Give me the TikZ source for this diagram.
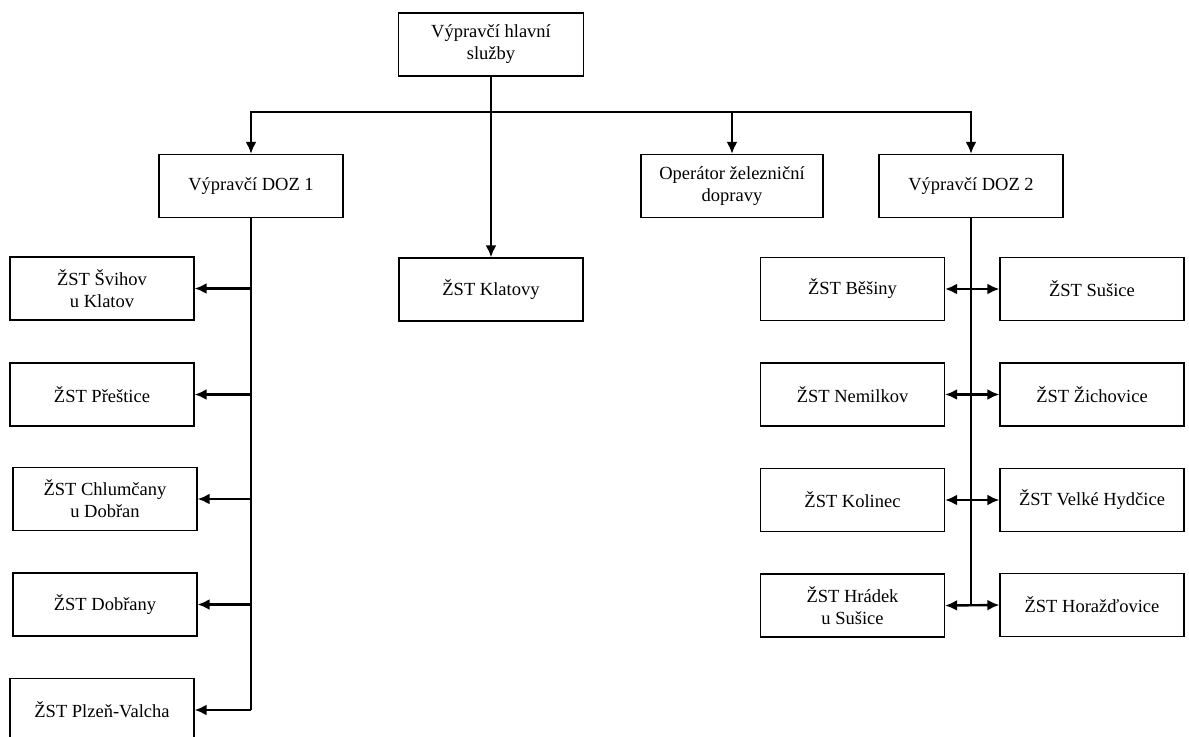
\documentclass[tikz,border=0pt]{standalone}
\usepackage{fontspec}
\setmainfont{Liberation Serif}
\usetikzlibrary{arrows.meta}

\begin{document}
\begin{tikzpicture}[x=0.5pt,y=-0.5pt,
  box/.style={draw,line width=0.6pt,minimum width=92pt,minimum height=31.5pt,inner sep=0pt,align=center,font=\fontsize{9.25}{11}\selectfont},
  link/.style={line width=1.2pt,-{Latex[length=6pt,width=5.5pt]}},
  both/.style={line width=1.2pt,{Latex[length=6pt,width=5.5pt]}-{Latex[length=6pt,width=5.5pt]}}]
\useasboundingbox (0,0) rectangle (1189,736);
\node[box,minimum width=92.5pt] (hlavni) at (491,44.5) {Výpravčí hlavní\\služby};
\node[box] (doz1) at (251,186) {Výpravčí DOZ 1};
\node[box,minimum width=91pt] (oper) at (732,186) {Operátor železniční\\dopravy};
\node[box] (doz2) at (971,186) {Výpravčí DOZ 2};
\node[box] (klatovy) at (491,289.5) {ŽST Klatovy};

\node[box] (svihov) at (102,288.5) {ŽST Švihov\\u Klatov};
\node[box] (prestice) at (102,394.5) {ŽST Přeštice};
\node[box] (chlumcany) at (105,499) {ŽST Chlumčany\\u Dobřan};
\node[box] (dobrany) at (105,604.5) {ŽST Dobřany};
\node[box] (plzen) at (102,710) {ŽST Plzeň-Valcha};

\node[box] (besiny) at (852.5,289) {ŽST Běšiny};
\node[box] (nemilkov) at (852.5,394.5) {ŽST Nemilkov};
\node[box] (kolinec) at (852.5,500) {ŽST Kolinec};
\node[box] (hradek) at (852.5,605.5) {ŽST Hrádek\\u Sušice};
\node[box] (susice) at (1092,289) {ŽST Sušice};
\node[box] (zichovice) at (1092,394.5) {ŽST Žichovice};
\node[box] (hydcice) at (1092,500) {ŽST Velké Hydčice};
\node[box] (horazdovice) at (1092,605) {ŽST Horažďovice};

\coordinate (rail) at (491,112);
\draw[link] (hlavni) -- (klatovy);
\draw[link] (rail) -| (doz1);
\draw[link] (rail) -| (oper);
\draw[link] (rail) -| (doz2);

\draw[line width=1.2pt] (doz1) -- (doz1 |- plzen);
\foreach \st in {svihov,prestice,chlumcany,dobrany,plzen}
  \draw[link] (doz1 |- \st) -- (\st.east);

\draw[line width=1.2pt] (doz2) -- (doz2 |- hradek);
\foreach \a/\b in {besiny/susice,nemilkov/zichovice,kolinec/hydcice,hradek/horazdovice}
  \draw[both] (\a.east) -- (\b.west);

\end{tikzpicture}
\end{document}
